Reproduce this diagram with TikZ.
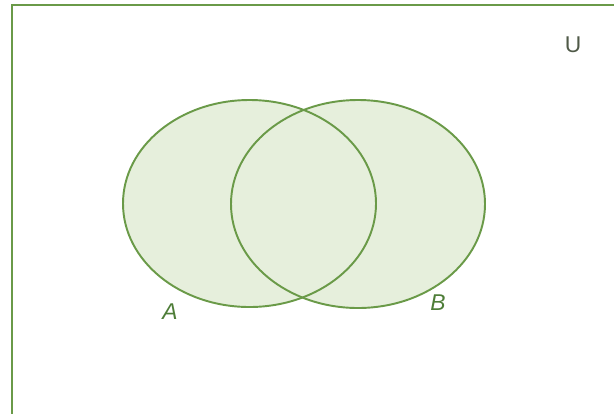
\documentclass[tikz,border=0pt]{standalone}
\usepackage{fontspec}
\setmainfont{Liberation Sans}
\usepackage{tikz}
\usetikzlibrary{positioning}
\definecolor{setline}{HTML}{6A9A48}
\definecolor{setfill}{HTML}{E6EFDC}
\definecolor{setlabel}{HTML}{4E7D38}
\definecolor{unilabel}{HTML}{505A48}

\begin{document}
\begin{tikzpicture}[x=0.02cm, y=-0.02cm, font=\fontsize{13}{15}\selectfont,
    setcurve/.style={draw=setline, line width=1.1pt},
    setname/.style={text=setlabel, font=\fontsize{13}{15}\selectfont\itshape}]
  \useasboundingbox (0,0) rectangle (614,413);
  \clip (0,0) rectangle (614,413);

  % Universum
  \draw[setline, line width=1.2pt] (12,5) rectangle (640,440);
  \node[text=unilabel] (U) at (573,45) {U};

  % Mnoziny A a B
  \fill[setfill] (249.5,203.5) ellipse [x radius=126.5, y radius=103.5];
  \fill[setfill] (358,204) ellipse [x radius=127, y radius=104];
  \draw[setcurve] (249.5,203.5) ellipse [x radius=126.5, y radius=103.5];
  \draw[setcurve] (358,204) ellipse [x radius=127, y radius=104];

  % Popisky
  \node[setname] (A) at (170,312) {A};
  \node[setname] (B) at (438,303) {B};
\end{tikzpicture}
\end{document}
